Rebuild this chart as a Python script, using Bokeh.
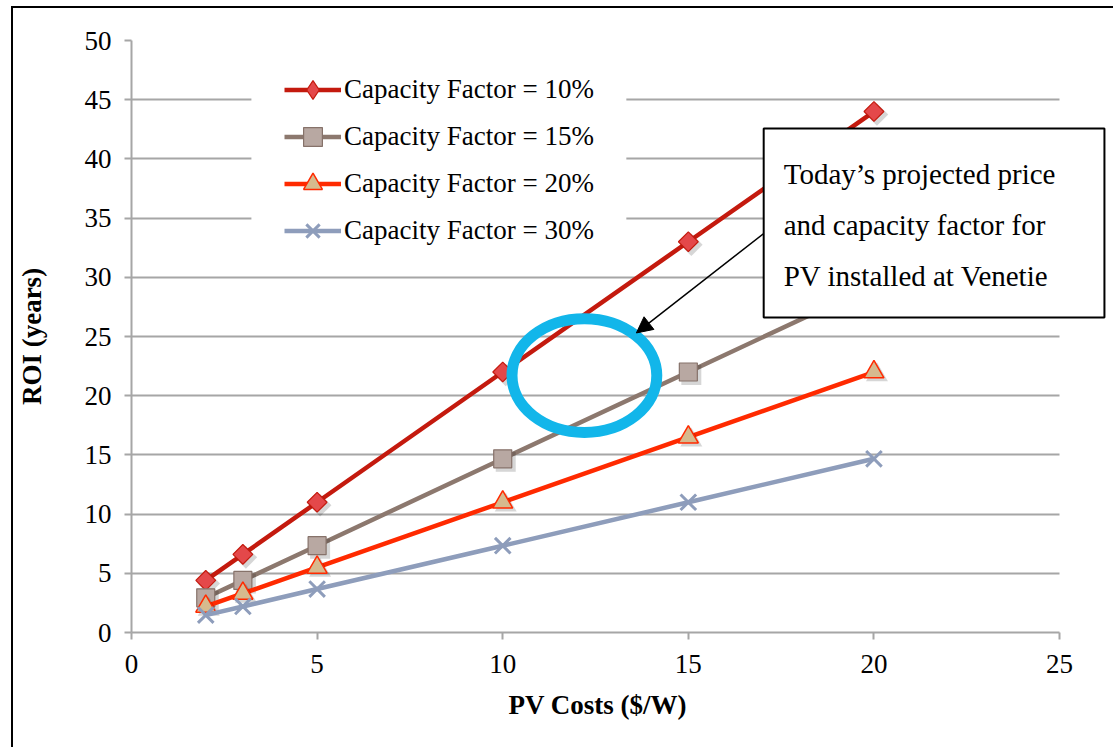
from bokeh.plotting import figure
from bokeh.models import (Legend, LegendItem, Label, Arrow, NormalHead, Title,
                          FixedTicker, Range1d, Grid, BoxAnnotation)
from bokeh.embed import file_html
from bokeh.resources import INLINE
import numpy as np

# ---------------- data ----------------
pv_costs = [2, 3, 5, 10, 15, 20]
roi_cf10 = [4.4, 6.6, 11, 22, 33, 44]
roi_cf15 = [2.93, 4.4, 7.33, 14.67, 22, 29.33]
roi_cf20 = [2.2, 3.3, 5.5, 11, 16.5, 22]
roi_cf30 = [1.47, 2.2, 3.67, 7.33, 11, 14.67]
series_labels = ["Capacity Factor = 10%", "Capacity Factor = 15%",
                 "Capacity Factor = 20%", "Capacity Factor = 30%"]
x_ticks = [0, 5, 10, 15, 20, 25]
y_ticks = [0, 5, 10, 15, 20, 25, 30, 35, 40, 45, 50]
x_axis_bounds = (0, 25)
y_axis_bounds = (0, 50)
x_label = "PV Costs ($/W)"
y_label = "ROI (years)"
note_text = "Today\u2019s projected price\nand capacity factor for\nPV installed at Venetie"
# highlighted region / annotation placement (data units)
ellipse_center = (12.2, 21.7)
ellipse_size = (3.9, 9.6)
arrow_from = (17.03, 33.7)
arrow_to = (13.6, 25.3)
note_anchor = (17.03, 42.57)
legend_bg = dict(left=3.23, right=13.33, top=48.1, bottom=31.6)

SERIF = "Liberation Serif"
GRID = "#A6A6A6"

p = figure(frame_width=983, frame_height=592,
           min_border_left=117, min_border_right=0,
           min_border_top=32, min_border_bottom=115,
           x_range=Range1d(0, 26.48), y_range=Range1d(0, 50),
           output_backend="svg", toolbar_location=None,
           background_fill_color="white", border_fill_color="white")
p.outline_line_color = None
p.styles = {"border-left": "2px solid black", "border-top": "2px solid black",
            "margin-left": "11px", "margin-top": "6px"}

# axes
for ax in (p.xaxis[0], p.yaxis[0]):
    ax.axis_line_color = GRID
    ax.axis_line_width = 2
    ax.major_tick_line_color = GRID
    ax.major_tick_line_width = 2
    ax.major_tick_out = 7
    ax.major_tick_in = 0
    ax.minor_tick_line_color = None
    ax.major_label_text_font = SERIF
    ax.major_label_text_font_size = "27px"
    ax.major_label_text_color = "black"
    ax.axis_label_text_font = SERIF
    ax.axis_label_text_font_size = "27px"
    ax.axis_label_text_font_style = "bold"
    ax.axis_label_text_color = "black"
p.xaxis.major_label_standoff = 15
p.yaxis.major_label_standoff = 13
p.xaxis.ticker = FixedTicker(ticks=x_ticks)
p.yaxis.ticker = FixedTicker(ticks=y_ticks)
p.xaxis.bounds = x_axis_bounds
p.yaxis.bounds = y_axis_bounds
p.yaxis.axis_label = y_label
p.yaxis.axis_label_standoff = 35

# x-axis title centred under the axis extent (frame extends right for the note box)
xt = Title(text=x_label, align="left", offset=377,
           text_font=SERIF, text_font_size="27px", text_font_style="bold",
           text_color="black", standoff=24)
p.add_layout(xt, "below")

p.xgrid.grid_line_color = None
if "cross_bounds" in Grid.properties():
    p.ygrid.grid_line_color = GRID
    p.ygrid.grid_line_width = 2
    p.ygrid.cross_bounds = x_axis_bounds
else:
    p.ygrid.grid_line_color = None
    p.segment(x0=x_axis_bounds[0], x1=x_axis_bounds[1], y0=y_ticks[1:],
              y1=y_ticks[1:], line_color=GRID, line_width=2)

styles = [
    dict(y=roi_cf10, line="#C41A0E", marker="square", angle=np.pi / 4, size=14,
         fill="#E4484A", mline="#C41A0E", lw=1.2, legend_marker="diamond"),
    dict(y=roi_cf15, line="#8C786E", marker="square", angle=0, size=18,
         fill="#B8A8A2", mline="#86726A", lw=1.2, legend_marker=None),
    dict(y=roi_cf20, line="#FF2A00", marker="triangle", angle=0, size=20,
         fill="#D6BA8E", mline="#FF2A00", lw=1.5, legend_marker=None),
    dict(y=roi_cf30, line="#8E9DBB", marker="x", angle=0, size=22,
         fill="#8E9DBB", mline="#8E9DBB", lw=3, legend_marker=None),
]

# marker shadow offset (screen px converted to data units)
sx_off = 3 / 37.12
sy_off = -3 / 11.84

items = []
for lab, st in zip(series_labels, styles):
    lr = p.line(pv_costs, st["y"], line_color=st["line"], line_width=4.5)
    if st["marker"] != "x":
        p.scatter(np.array(pv_costs) + sx_off, np.array(st["y"]) + sy_off,
                  marker=st["marker"], angle=st["angle"], size=st["size"] + 2,
                  fill_color="#000000", fill_alpha=0.16, line_color=None)
    rends = [lr]
    if st["legend_marker"]:
        # legend key glyph (hidden beneath the rotated-square markers)
        key = p.scatter(pv_costs, st["y"], marker=st["legend_marker"], size=14,
                        fill_color=st["fill"], line_color=st["mline"],
                        line_width=st["lw"])
        rends.append(key)
    sr = p.scatter(pv_costs, st["y"], marker=st["marker"], angle=st["angle"],
                   size=st["size"], fill_color=st["fill"],
                   line_color=st["mline"], line_width=st["lw"])
    if not st["legend_marker"]:
        rends.append(sr)
    items.append(LegendItem(label=lab, renderers=rends))

# white panel behind the legend (hides gridlines as in the original)
p.add_layout(BoxAnnotation(left=legend_bg["left"], right=legend_bg["right"],
                           top=legend_bg["top"], bottom=legend_bg["bottom"],
                           fill_color="white", fill_alpha=1.0, line_color=None))

legend = Legend(items=items, location=(153, 378),
                label_text_font=SERIF, label_text_font_size="27px",
                label_text_color="black", label_text_baseline="middle",
                glyph_width=57, glyph_height=47, spacing=0,
                label_standoff=3, padding=0, margin=0,
                background_fill_color="white", background_fill_alpha=1.0,
                border_line_color=None)
p.add_layout(legend, "center")

# highlight ellipse
p.ellipse(x=[ellipse_center[0]], y=[ellipse_center[1]],
          width=[ellipse_size[0]], height=[ellipse_size[1]],
          fill_color=None, line_color="#12B6EA", line_width=11)

# arrow
p.add_layout(Arrow(end=NormalHead(size=16, fill_color="black", line_color="black"),
                   x_start=arrow_from[0], y_start=arrow_from[1],
                   x_end=arrow_to[0], y_end=arrow_to[1],
                   line_color="black", line_width=1.5))

# annotation box
note = Label(x=note_anchor[0], y=note_anchor[1], text=note_text,
             anchor="top_left", text_align="left", text_baseline="top",
             text_font=SERIF, text_font_size="29px", text_color="black",
             text_line_height=1.58,
             padding=dict(left=20, right=49, top=30, bottom=26),
             background_fill_color="white", background_fill_alpha=1.0,
             border_line_color="black", border_line_width=2)
p.add_layout(note)

open("out.html", "w").write(file_html(p, INLINE))
